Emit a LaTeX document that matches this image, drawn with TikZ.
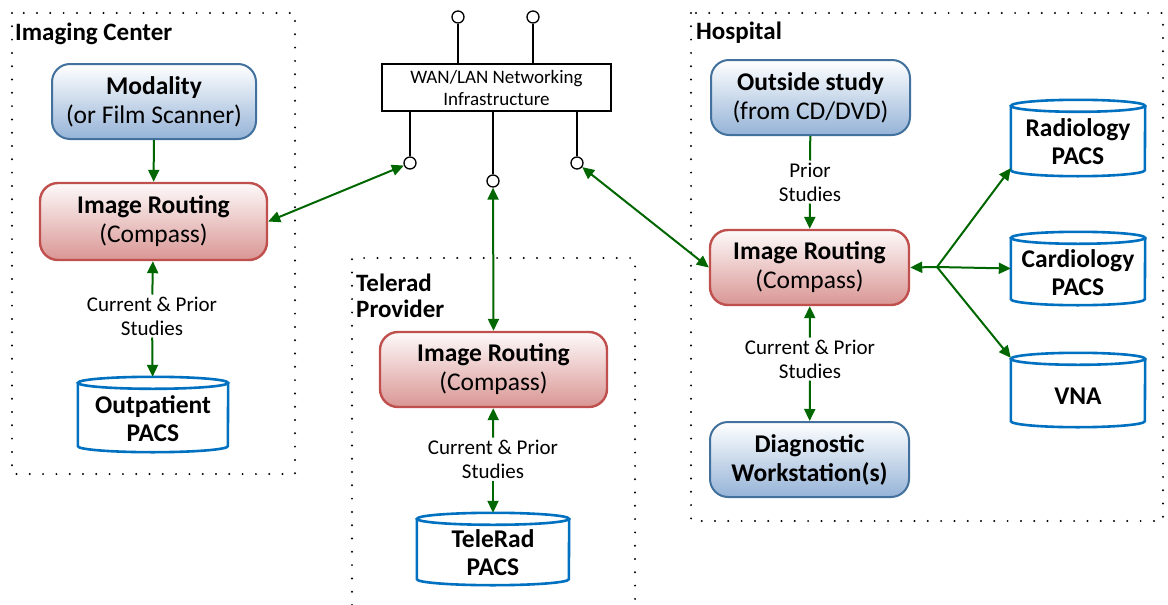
\documentclass[tikz,border=0pt]{standalone}
\usepackage{fontspec}
\setmainfont{Carlito}
\usetikzlibrary{arrows.meta,shapes.geometric}
\definecolor{gline}{HTML}{006600}
\definecolor{bbord}{HTML}{41719C}
\definecolor{bfill}{HTML}{95B3D7}
\definecolor{rbord}{HTML}{C0504D}
\definecolor{rfill}{HTML}{D99694}
\definecolor{dbblue}{HTML}{0070C0}
\tikzset{
  bigfont/.style={font=\fontsize{25.5}{29}\selectfont},
  bluebox/.style={draw=bbord, line width=2pt, rounded corners=18pt, top color=white, bottom color=bfill, align=center, bigfont, inner sep=0pt},
  redbox/.style={draw=rbord, line width=2.4pt, rounded corners=18pt, top color=white!95!rfill, bottom color=rfill, align=center, bigfont, inner sep=0pt},
  dbnode/.style={align=center, font=\fontsize{25.5}{28}\selectfont\bfseries, inner sep=0pt},
  dbline/.style={draw=dbblue, line width=2.6pt, fill=white},
  dotbox/.style={line width=2.2pt, dash pattern=on 0pt off 13.3pt, line cap=round},
  grplabel/.style={anchor=base west, align=left, font=\fontsize{25}{26}\selectfont\bfseries, inner sep=0pt},
  smalllabel/.style={align=center, font=\fontsize{21}{24}\selectfont, inner sep=2pt},
  garrow/.style={draw=gline, line width=2pt, -{Triangle[length=12pt,width=11pt]}},
  gboth/.style={draw=gline, line width=2pt, {Triangle[length=12pt,width=11pt]}-{Triangle[length=12pt,width=11pt]}},
  gline/.style={draw=gline, line width=2pt},
  port/.style={circle, draw, line width=1.3pt, minimum size=12pt, inner sep=0pt, fill=white},
  netline/.style={line width=1.3pt},
}
\newcommand\mydb[2]{%
  \draw[dbline] ([yshift=-6pt]#1.north west) -- ([yshift=6pt]#1.south west)
     arc[start angle=180,end angle=360,x radius=#2,y radius=6pt]
     -- ([yshift=-6pt]#1.north east);
  \draw[dbline] ([yshift=-6pt]#1.north) ellipse [x radius=#2, y radius=6pt];
}
\begin{document}
\begin{tikzpicture}[x=1pt,y=-1pt]
\useasboundingbox (0,0) rectangle (1168,605);
% group boxes
\draw[dotbox] (12,13) rectangle (295,474);
\draw[dotbox] (352,605) -- (352,258) -- (635,258) -- (635,605);
\draw[dotbox] (691,13) rectangle (1163,521);
\node[grplabel] (lic) at (15,40) {Imaging Center};
\node[grplabel] (ltp) at (356,317) {Telerad\\Provider};
\node[grplabel] (lho) at (696,39) {Hospital};

% network
\node[draw, line width=1.3pt, minimum width=229pt, minimum height=47pt, align=center, font=\fontsize{19}{22}\selectfont, inner sep=0pt] (wan) at (496.5,87.5) {WAN/LAN Networking\\Infrastructure};
\node[port] (t1) at (458,17) {};
\node[port] (t2) at (533,17) {};
\node[port] (p1) at (410,163) {};
\node[port] (p2) at (493,181) {};
\node[port] (p3) at (577,163) {};
\draw[netline] (t1) -- (t1 |- wan.north);
\draw[netline] (t2) -- (t2 |- wan.north);
\draw[netline] (p1) -- (p1 |- wan.south);
\draw[netline] (p2) -- (p2 |- wan.south);
\draw[netline] (p3) -- (p3 |- wan.south);

% imaging center
\node[bluebox, minimum width=204pt, minimum height=75pt] (mod) at (154,101.5) {\textbf{Modality}\\(or Film Scanner)};
\node[redbox, minimum width=227pt, minimum height=77pt] (icr) at (153.5,221.5) {\textbf{Image Routing}\\(Compass)};
\node[smalllabel] (icl) at (152,316) {Current \& Prior\\Studies};
\node[dbnode, minimum width=150pt, minimum height=75pt] (opacs) at (153,414.5) {};
\mydb{opacs}{75pt}
\node[dbnode] at (153,419) {Outpatient\\PACS};
\draw[garrow] (mod) -- (icr);
\draw[garrow] (icl) -- (icr);
\draw[garrow] (icl) -- (opacs);

% telerad
\node[redbox, minimum width=227pt, minimum height=75pt] (tr) at (493.5,369.5) {\textbf{Image Routing}\\(Compass)};
\node[smalllabel] (trl) at (493,459) {Current \& Prior\\Studies};
\node[dbnode, minimum width=152pt, minimum height=72pt] (tpacs) at (493,549) {};
\mydb{tpacs}{76pt}
\node[dbnode] at (493,553) {TeleRad\\PACS};
\draw[garrow] (trl) -- (tr);
\draw[garrow] (trl) -- (tpacs);

% hospital
\node[bluebox, minimum width=199pt, minimum height=75pt] (out) at (810.5,97.5) {\textbf{Outside study}\\(from CD/DVD)};
\node[redbox, minimum width=199pt, minimum height=75pt] (hr) at (809.5,267.5) {\textbf{Image Routing}\\(Compass)};
\node[bluebox, minimum width=199pt, minimum height=75pt, font=\fontsize{25.5}{29}\selectfont\bfseries] (dw) at (809.5,459.5) {Diagnostic\\Workstation(s)};
\node[smalllabel] (hpl) at (810,182) {Prior\\Studies};
\node[smalllabel] (hcl) at (810,359) {Current \& Prior\\Studies};
\draw[gline] (out) -- (hpl);
\draw[garrow] (hpl) -- (hr);
\draw[garrow] (hcl) -- (hr);
\draw[garrow] (hcl) -- (dw);

\node[dbnode, minimum width=134pt, minimum height=76pt] (rad) at (1078,138) {};
\mydb{rad}{67pt}
\node[dbnode] at (1078,142) {Radiology\\PACS};
\node[dbnode, minimum width=134pt, minimum height=73pt] (card) at (1078,268.5) {};
\mydb{card}{67pt}
\node[dbnode] at (1078,273) {Cardiology\\PACS};
\node[dbnode, minimum width=134pt, minimum height=74pt] (vna) at (1078,390) {};
\mydb{vna}{67pt}
\node[dbnode] at (1078,396) {VNA};

\coordinate (sp) at (937,267);
\draw[garrow] (sp) -- (hr.east);
\draw[garrow] (sp) -- ([yshift=8pt]rad.south west);
\draw[garrow] (sp) -- (card.west);
\draw[garrow] (sp) -- ([yshift=-5pt]vna.north west);

% network links
\draw[gboth] (icr.east) -- (p1);
\draw[gboth] (p2) -- (tr.north);
\draw[gboth] (p3) -- (hr.west);
\end{tikzpicture}
\end{document}
